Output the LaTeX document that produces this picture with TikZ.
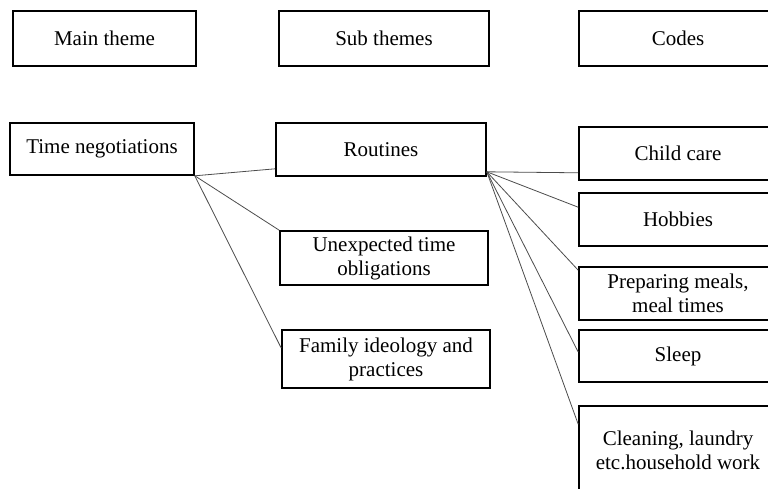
\documentclass[tikz,border=0pt]{standalone}
\usepackage{fontspec}
\setmainfont{Liberation Serif}
\usetikzlibrary{calc}
\tikzset{
  boxnode/.style={draw=black, line width=1.6pt, rectangle, inner sep=0pt,
    align=center, font=\fontsize{21}{24}\selectfont, fill=white},
  link/.style={draw=black!70, line width=0.8pt}
}
\begin{document}
\begin{tikzpicture}[x=1pt,y=-1pt]
\useasboundingbox (0,0) rectangle (768,488);
\clip (0,0) rectangle (768,488);
% top row
\node[boxnode, minimum width=183pt, minimum height=55pt] (mt) at (104.5,38.5) {Main theme};
\node[boxnode, minimum width=210pt, minimum height=55pt] (st) at (384,38.5) {Sub themes};
\node[boxnode, minimum width=198pt, minimum height=55pt] (cd) at (678,38.5) {Codes};
% main theme
\node[boxnode, minimum width=184pt, minimum height=52pt] (tn) at (102,149) {Time negotiations};
% sub themes
\node[boxnode, minimum width=210pt, minimum height=53pt] (rt) at (381,149.5) {Routines};
\node[boxnode, minimum width=208pt, minimum height=54pt] (ue) at (384,258) {Unexpected time\\obligations};
\node[boxnode, minimum width=208pt, minimum height=58pt] (fi) at (386,359) {Family ideology and\\practices};
% codes
\node[boxnode, minimum width=198pt, minimum height=53pt] (cc) at (678,153.5) {Child care};
\node[boxnode, minimum width=198pt, minimum height=53pt] (hb) at (678,219.5) {Hobbies};
\node[boxnode, minimum width=198pt, minimum height=53pt] (pm) at (678,293.5) {Preparing meals,\\meal times};
\node[boxnode, minimum width=198pt, minimum height=52pt] (sl) at (678,356) {Sleep};
\node[boxnode, minimum width=198pt, minimum height=88pt] (cl) at (678,450) {Cleaning, laundry\\etc.household work};
% connectors from main theme
\draw[link] (tn.south east) -- ([yshift=8pt]rt.south west);
\draw[link] (tn.south east) -- (ue.north west);
\draw[link] (tn.south east) -- ([yshift=11pt]fi.west);
% connectors from routines
\coordinate (ro) at ([yshift=5pt]rt.south east);
\draw[link] (ro) -- ([yshift=8pt]cc.south west);
\draw[link] (ro) -- ([yshift=-15pt]hb.north west);
\draw[link] (ro) -- ([yshift=-4pt]pm.north west);
\draw[link] (ro) -- ([yshift=4pt]sl.west);
\draw[link] (ro) -- ([yshift=-19pt]cl.north west);
\end{tikzpicture}
\end{document}
